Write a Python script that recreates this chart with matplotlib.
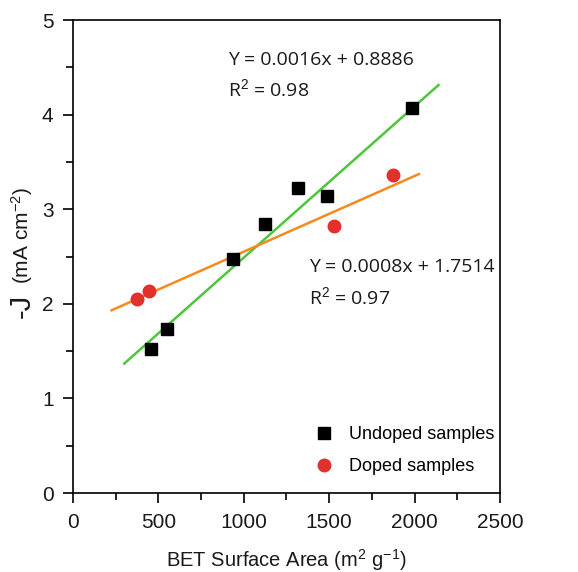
import numpy as np
import matplotlib
matplotlib.use('Agg')
import matplotlib.pyplot as plt
from matplotlib.ticker import MultipleLocator

plt.rcParams['font.family'] = ['Liberation Sans', 'DejaVu Sans']
plt.rcParams['mathtext.fontset'] = 'custom'
plt.rcParams['mathtext.rm'] = 'Liberation Sans'
plt.rcParams['mathtext.it'] = 'Liberation Sans:italic'

# BET surface area (m2/g) vs -J (mA/cm2)
undoped_x = [455, 548, 939, 1124, 1317, 1489, 1987]
undoped_y = [1.52, 1.73, 2.47, 2.84, 3.22, 3.14, 4.07]
doped_x = [373, 447, 1530, 1875]
doped_y = [2.05, 2.14, 2.82, 3.36]

# linear fits (slope, intercept, r2, x range of the drawn line)
fit_undoped = (0.0016, 0.8886, 0.98, (300, 2140))
fit_doped = (0.0008, 1.7514, 0.97, (226, 2026))

c_green = '#4cc73a'
c_orange = '#f58a1f'
c_red = '#e2302b'

fig = plt.figure(figsize=(5.78, 5.72), dpi=100)
ax = fig.add_axes([0.1263, 0.138, 0.7387, 0.827])

for (m, b, r2, (x0, x1)), col in [(fit_undoped, c_green), (fit_doped, c_orange)]:
    xs = np.array([x0, x1])
    ax.plot(xs, m * xs + b, color=col, lw=1.8, zorder=2)

ax.plot(undoped_x, undoped_y, 's', color='black', ms=8, ls='none',
        label='Undoped samples', zorder=3)
ax.plot(doped_x, doped_y, 'o', color=c_red, ms=9, ls='none',
        label='Doped samples', zorder=3)

ann_font = dict(family=['Open Sans', 'DejaVu Sans'], fontsize=14, color='#1a1a1a')
ax.text(907, 4.58, 'Y = %.4fx + %.4f' % fit_undoped[:2], va='center', **ann_font)
ax.text(907, 4.27, 'R$^2$ = %.2f' % fit_undoped[2], va='center', **ann_font)
ax.text(1382, 2.39, 'Y = %.4fx + %.4f' % fit_doped[:2], va='center', **ann_font)
ax.text(1382, 2.07, 'R$^2$ = %.2f' % fit_doped[2], va='center', **ann_font)

ax.set_xlim(0, 2500)
ax.set_ylim(0, 5)
ax.xaxis.set_major_locator(MultipleLocator(500))
ax.xaxis.set_minor_locator(MultipleLocator(250))
ax.yaxis.set_major_locator(MultipleLocator(1))
ax.yaxis.set_minor_locator(MultipleLocator(0.5))
ax.tick_params(which='major', direction='out', length=7, width=1.2,
               labelsize=15, pad=7, labelcolor='#1a1a1a')
ax.tick_params(which='minor', direction='out', length=5, width=1.2)
for s in ax.spines.values():
    s.set_linewidth(1.2)

ax.set_xlabel('BET Surface Area (m$^2$ g$^{-1}$)', fontsize=14.5, labelpad=11,
              color='#1a1a1a')

# y label in two pieces: a large "-J" and the unit text
fig.text(22 / 578, 1 - 306 / 572, '-J', rotation=90, ha='center', va='center',
         fontsize=21, color='#1a1a1a')
fig.text(22 / 578, 1 - 236 / 572, '(mA cm$^{-2}$)', rotation=90, ha='center',
         va='center', fontsize=15, color='#1a1a1a')

ax.legend(loc='lower right', frameon=False, fontsize=13, handletextpad=0.6,
          labelspacing=0.8, bbox_to_anchor=(1.025, 0.004), markerscale=1.0,
          handlelength=1.6)

fig.savefig('out.png', dpi=100)
